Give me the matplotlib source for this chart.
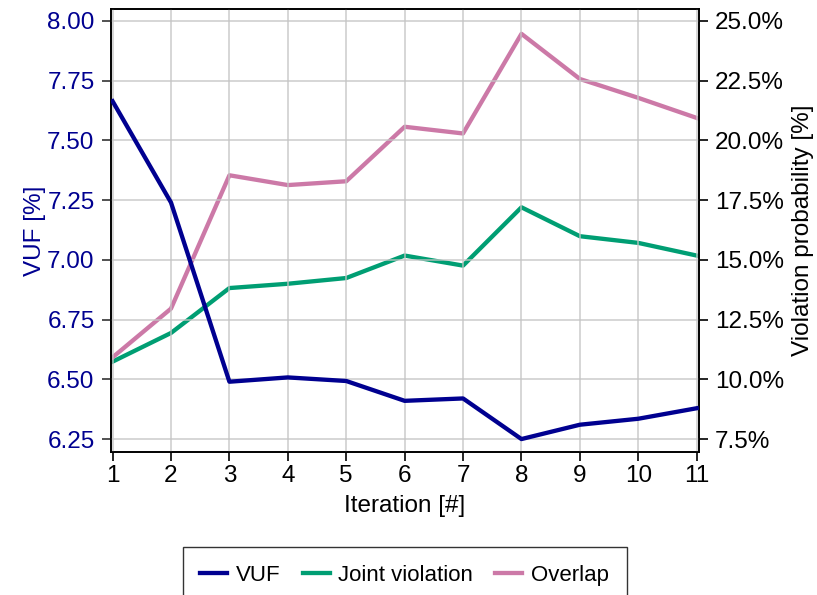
import matplotlib
matplotlib.use("Agg")
import matplotlib.pyplot as plt
from matplotlib.ticker import FuncFormatter

iterations = [1, 2, 3, 4, 5, 6, 7, 8, 9, 10, 11]
vuf = [7.664, 7.240, 6.490, 6.508, 6.493, 6.410, 6.420, 6.250, 6.310, 6.335, 6.379]
joint_violation = [10.74, 11.94, 13.82, 14.00, 14.24, 15.18, 14.76, 17.20, 15.99, 15.71, 15.18]
overlap = [10.92, 12.96, 18.54, 18.13, 18.29, 20.57, 20.29, 24.46, 22.57, 21.78, 20.94]

left_ticks = [6.25, 6.50, 6.75, 7.00, 7.25, 7.50, 7.75, 8.00]
right_ticks = [7.5, 10.0, 12.5, 15.0, 17.5, 20.0, 22.5, 25.0]

FS = 17.5
plt.rcParams['font.family'] = ['Liberation Sans', 'DejaVu Sans']
plt.rcParams['font.size'] = FS

c_vuf = '#000090'
c_joint = '#009E73'
c_over = '#CC79A7'

fig = plt.figure(figsize=(8.17, 5.95), dpi=100)
ax = fig.add_axes([0.1353, 0.2408, 0.8556 - 0.1353, 0.9849 - 0.2408])
ax2 = ax.twinx()

l1, = ax.plot(iterations, vuf, color=c_vuf, lw=3.1, label='VUF', zorder=3)
l2, = ax2.plot(iterations, joint_violation, color=c_joint, lw=3.1, label='Joint violation')
l3, = ax2.plot(iterations, overlap, color=c_over, lw=3.1, label='Overlap')

ax.set_xlim(0.965, 11.04)
ax.set_ylim(6.197, 8.05)
ax2.set_ylim(6.97, 25.5)
ax.set_zorder(ax2.get_zorder() + 1)
ax.patch.set_visible(False)

ax.set_xticks(iterations)
ax.set_yticks(left_ticks)
ax.yaxis.set_major_formatter(FuncFormatter(lambda v, p: f"{v:.2f}"))
ax2.set_yticks(right_ticks)
ax2.yaxis.set_major_formatter(FuncFormatter(lambda v, p: f"{v:.1f}%"))

ax.grid(True, color='#c4c4c4', lw=1.2, alpha=0.8)
ax.set_axisbelow(True)
for a in (ax, ax2):
    a.tick_params(direction='out', length=6.5, width=1.2, labelsize=FS, pad=5)
    for s in a.spines.values():
        s.set_linewidth(1.2)
ax.tick_params(axis='x', pad=3)
ax.tick_params(axis='y', labelcolor=c_vuf, color='#333333')

ax.set_xlabel('Iteration [#]', fontsize=FS, labelpad=6)
ax.set_ylabel('VUF [%]', fontsize=FS, color=c_vuf, labelpad=1)
ax2.set_ylabel('Violation probability [%]', fontsize=FS, labelpad=6)

leg = fig.legend(handles=[l1, l2, l3], loc='upper center',
                 bbox_to_anchor=(0.4954, 1 - 547 / 595), ncol=3,
                 frameon=True, fancybox=False, edgecolor='black',
                 handlelength=1.2, handletextpad=0.4, columnspacing=1.0,
                 borderpad=0.8, borderaxespad=0, fontsize=16)
leg.get_frame().set_linewidth(1.0)

fig.savefig('out.png', dpi=100)
